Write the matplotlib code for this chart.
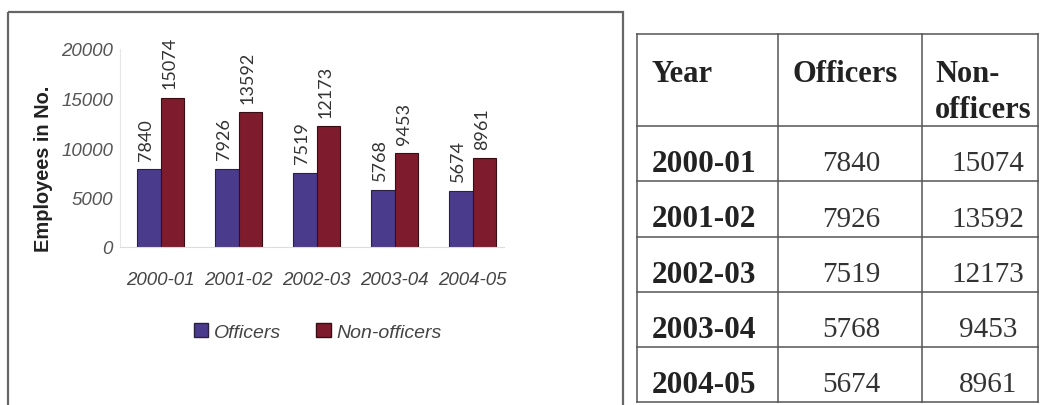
import numpy as np
import matplotlib.pyplot as plt
from matplotlib.patches import Rectangle, Patch
from matplotlib.lines import Line2D

# Mitarbeiterzahlen je Jahr
years = ['2000-01', '2001-02', '2002-03', '2003-04', '2004-05']
officers = [7840, 7926, 7519, 5768, 5674]
non_officers = [15074, 13592, 12173, 9453, 8961]
y_ticks = [0, 5000, 10000, 15000, 20000]

col_off = '#4b3b8c'
col_non = '#7e1c2e'

W, H = 1041, 406
fig = plt.figure(figsize=(W / 100, H / 100), dpi=100)
fig.patch.set_facecolor('white')

# Rahmen um das Diagramm (Pixelkoordinaten)
frame = fig.add_axes([0, 0, 1, 1])
frame.set_xlim(0, W)
frame.set_ylim(H, 0)
frame.axis('off')
frame.add_patch(Rectangle((8, 13), 615, 400, fill=False, ec='#666666', lw=1.6))

# Balkendiagramm
ax = fig.add_axes([120 / W, 1 - 248 / H, 384 / W, 198 / H])
x = np.arange(len(years))
bw = 0.3
b1 = ax.bar(x - bw / 2, officers, bw, color=col_off, edgecolor='#2a2040', lw=0.8)
b2 = ax.bar(x + bw / 2, non_officers, bw, color=col_non, edgecolor='#3a0d15', lw=0.8)
ax.set_xlim(-0.52, 4.4)
ax.set_ylim(0, 20000)
ax.set_yticks(y_ticks)
ax.set_yticklabels([str(v) for v in y_ticks], fontsize=13.5, style='italic',
                   color='#555555', family='Liberation Sans')
ax.set_xticks(x)
ax.set_xticklabels(years, fontsize=13.5, style='italic', color='#444444',
                   family='Liberation Sans')
ax.tick_params(length=0, pad=5)
ax.tick_params(axis='x', pad=17)
for s in ['top', 'right']:
    ax.spines[s].set_visible(False)
ax.spines['left'].set_color('#e6e6e6')
ax.spines['bottom'].set_color('#dddddd')
ax.set_ylabel('Employees in No.', fontsize=14.4, fontweight='bold',
              family='Liberation Sans', color='#222222')
ax.yaxis.set_label_coords(-0.175, 0.40)

# Werte über den Balken
for bars in (b1, b2):
    for b in bars:
        h = b.get_height()
        ax.annotate(str(int(h)), (b.get_x() + b.get_width() / 2, h),
                    xytext=(-2, 7), textcoords='offset points',
                    rotation=90, ha='center', va='bottom',
                    fontsize=13, color='#333333', family='Lato')

leg = fig.legend(handles=[Patch(fc=col_off, ec='#2a2040', label='Officers'),
                          Patch(fc=col_non, ec='#3a0d15', label='Non-officers')],
                 loc='center', bbox_to_anchor=(318 / W, 1 - 333 / H), ncol=2,
                 frameon=False, handlelength=0.75, handleheight=0.75,
                 handletextpad=0.3, columnspacing=1.8,
                 prop={'family': 'Liberation Sans', 'style': 'italic', 'size': 14})
for t in leg.get_texts():
    t.set_color('#444444')

# Tabelle rechts
rows = [127, 182, 238, 293, 348, 403]
cols = [637, 778, 922, 1038]
lc = '#555555'
for yy in [35] + rows:
    frame.add_line(Line2D([cols[0], cols[-1]], [yy, yy], color=lc, lw=1.1))
for xx in cols:
    frame.add_line(Line2D([xx, xx], [35, 403], color=lc, lw=1.1))

serif = 'Liberation Serif'
frame.text(652, 60, 'Year', fontsize=22, fontweight='bold', family=serif,
           va='top', ha='left', color='#222222')
frame.text(793, 60, 'Officers', fontsize=22, fontweight='bold', family=serif,
           va='top', ha='left', color='#222222')
frame.text(935, 60, 'Non-\nofficers', fontsize=22, fontweight='bold', family=serif,
           va='top', ha='left', color='#222222', linespacing=1.3)

for i, yr in enumerate(years):
    yc = (rows[i] + rows[i + 1]) / 2 + 10
    frame.text(652, yc, yr, fontsize=22.5, fontweight='bold', family=serif,
               va='center', ha='left', color='#222222')
    frame.text(851, yc, str(officers[i]), fontsize=21, family=serif,
               va='center', ha='center', color='#333333')
    frame.text(988, yc, str(non_officers[i]), fontsize=21, family=serif,
               va='center', ha='center', color='#333333')

fig.savefig('out.png', dpi=100)
